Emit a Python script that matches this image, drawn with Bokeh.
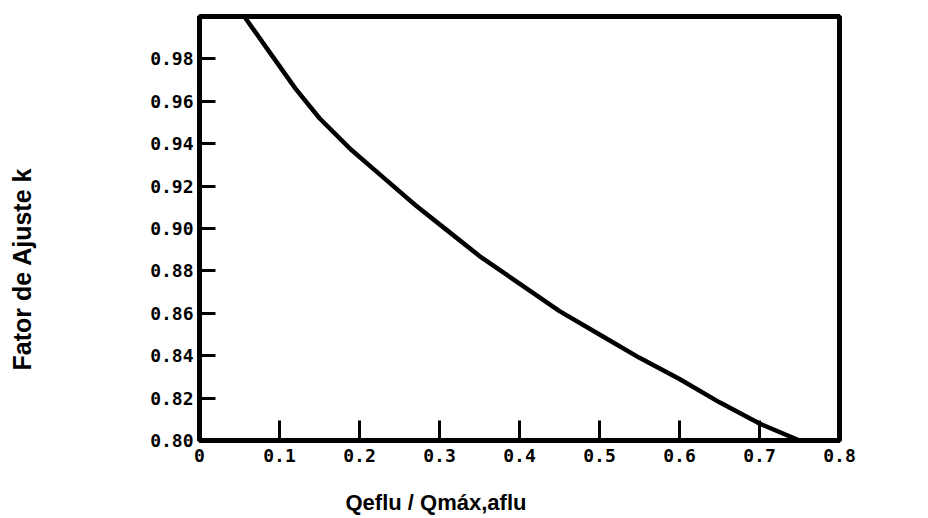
from bokeh.plotting import figure
from bokeh.models import Range1d, FixedTicker, LinearAxis, Title
from bokeh.embed import file_html
from bokeh.resources import INLINE

# Curve data
ratio = [0.056, 0.086, 0.12, 0.15, 0.19, 0.23, 0.27, 0.31, 0.35, 0.40,
         0.45, 0.50, 0.55, 0.60, 0.65, 0.70, 0.75]
factor_k = [1.000, 0.984, 0.966, 0.952, 0.937, 0.924, 0.911, 0.899, 0.887, 0.874,
            0.861, 0.850, 0.839, 0.829, 0.818, 0.808, 0.800]

x_ticks = [0, 0.1, 0.2, 0.3, 0.4, 0.5, 0.6, 0.7, 0.8]
x_tick_labels = ["0", "0.1", "0.2", "0.3", "0.4", "0.5", "0.6", "0.7", "0.8"]
y_ticks = [0.80, 0.82, 0.84, 0.86, 0.88, 0.90, 0.92, 0.94, 0.96, 0.98]
y_tick_labels = ["0.80", "0.82", "0.84", "0.86", "0.88", "0.90", "0.92", "0.94", "0.96", "0.98"]

x_title = "Qeflu / Qmáx,aflu"
y_title = "Fator de Ajuste k"

p = figure(
    frame_width=640, frame_height=424,
    min_border_left=199, min_border_right=89, min_border_top=16, min_border_bottom=78,
    x_range=Range1d(0, 0.8), y_range=Range1d(0.80, 1.00),
    output_backend="svg", toolbar_location=None,
)
p.background_fill_color = "white"
p.border_fill_color = "white"
p.outline_line_color = "black"
p.outline_line_width = 5
p.xgrid.visible = False
p.ygrid.visible = False

tick_font = "DejaVu Sans Mono"

p.xaxis.ticker = FixedTicker(ticks=x_ticks)
p.xaxis.major_label_overrides = {t: l for t, l in zip(x_ticks, x_tick_labels)}
p.yaxis.ticker = FixedTicker(ticks=y_ticks)
p.yaxis.major_label_overrides = {t: l for t, l in zip(y_ticks, y_tick_labels)}

for ax in (p.xaxis, p.yaxis):
    ax.axis_line_color = "black"
    ax.axis_line_width = 5
    ax.major_tick_line_color = "black"
    ax.major_tick_line_width = 3
    ax.major_tick_out = 0
    ax.minor_tick_line_color = None
    ax.major_label_text_font = tick_font
    ax.major_label_text_font_style = "bold"
    ax.major_label_text_font_size = "18px"
    ax.major_label_text_color = "black"

p.xaxis.major_tick_in = 20
p.xaxis.major_label_standoff = 8
p.yaxis.major_tick_in = 16
p.yaxis.major_label_standoff = 6

p.line(ratio, factor_k, line_color="black", line_width=4.5, line_join="round")


def spacer(size, tick):
    # invisible axis used only to reserve room between tick labels and title
    ax = LinearAxis(ticker=FixedTicker(ticks=[tick]))
    ax.major_label_overrides = {tick: ""}
    ax.major_label_text_font_size = "0px"
    ax.axis_line_color = None
    ax.major_tick_line_color = None
    ax.minor_tick_line_color = None
    ax.major_tick_in = 0
    ax.major_tick_out = size
    ax.major_label_standoff = 0
    return ax


p.add_layout(spacer(24, 0.4), "below")
p.add_layout(spacer(111, 0.9), "left")

p.add_layout(Title(text=x_title, align="left", offset=146, standoff=0,
                   vertical_align="middle",
                   text_font="Liberation Sans", text_font_style="bold",
                   text_font_size="22px", text_color="black"), "below")
p.add_layout(Title(text=y_title, align="left", offset=70, standoff=0,
                   vertical_align="middle",
                   text_font="Liberation Sans", text_font_style="bold",
                   text_font_size="25px", text_color="black"), "left")

open("out.html", "w").write(file_html(p, INLINE))
